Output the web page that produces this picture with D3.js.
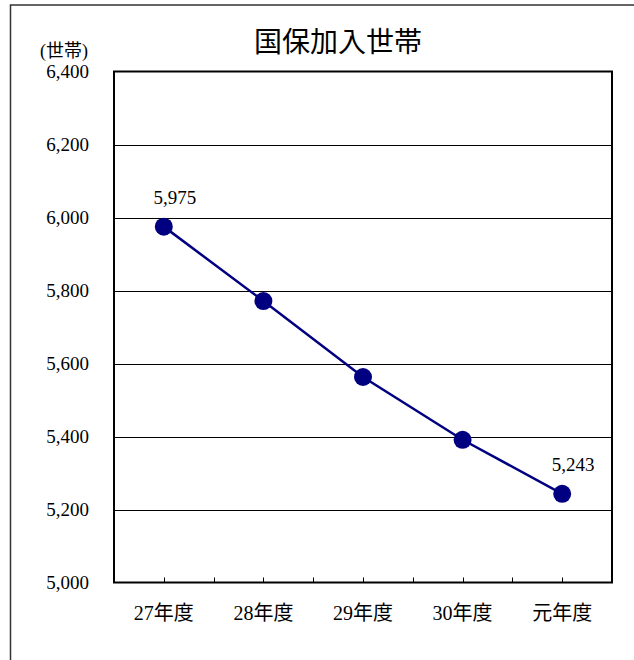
<!DOCTYPE html>
<html><head><meta charset="utf-8">
<script src="https://cdn.jsdelivr.net/npm/d3@7"></script>
<style>
html,body{margin:0;padding:0;background:#fff;}
svg{display:block;}
text{font-family:"Liberation Serif","DejaVu Serif","Noto Sans CJK JP",serif;fill:#000;}
</style></head>
<body>
<script>
const categories = ["27年度","28年度","29年度","30年度","元年度"];
const values = [5975, 5771, 5563, 5391, 5243];
const yTicks = [5000, 5200, 5400, 5600, 5800, 6000, 6200, 6400];
const labelled = [0, 4];
const title = "国保加入世帯";
const unitLabel = "(世帯)";

const W = 634, H = 660;
const L = 114, R = 612, T = 71.5, B = 582.5;

const svg = d3.select("body").append("svg").attr("width", W).attr("height", H);

// outer frame
svg.append("rect").attr("x", 10.5).attr("y", 5).attr("width", 640).attr("height", 700)
  .attr("fill", "none").attr("stroke", "#333").attr("stroke-width", 1.5);

const x = d3.scaleBand().domain(categories).range([L, R]).padding(0);
const y = d3.scaleLinear().domain([5000, 6400]).range([B, T]);

// gridlines
svg.append("g").selectAll("line").data(yTicks.slice(1, -1)).join("line")
  .attr("x1", L).attr("x2", R)
  .attr("y1", d => Math.round(y(d)) + 0.5).attr("y2", d => Math.round(y(d)) + 0.5)
  .attr("stroke", "#000").attr("stroke-width", 1);

// y tick labels
svg.append("g").selectAll("text").data(yTicks).join("text")
  .attr("x", 89).attr("y", d => y(d)).attr("dy", "0.36em")
  .attr("text-anchor", "end").attr("font-size", 19)
  .text(d => d3.format(",")(d));

svg.append("text").attr("x", 64).attr("y", 57).attr("text-anchor", "middle")
  .attr("font-size", 18).text(unitLabel);

// x ticks: centers and boundaries, pointing up
const tickXs = [];
categories.forEach((c, i) => {
  tickXs.push(x(c) + x.bandwidth() / 2);
  if (i > 0) tickXs.push(x(c));
});
svg.append("g").selectAll("line").data(tickXs).join("line")
  .attr("x1", d => Math.round(d) + 0.5).attr("x2", d => Math.round(d) + 0.5)
  .attr("y1", B).attr("y2", B - 5)
  .attr("stroke", "#000").attr("stroke-width", 1);

// x labels
svg.append("g").selectAll("text").data(categories).join("text")
  .attr("x", d => x(d) + x.bandwidth() / 2).attr("y", 620)
  .attr("text-anchor", "middle").attr("font-size", 20)
  .text(d => d);

// plot frame
svg.append("rect").attr("x", L).attr("y", T).attr("width", R - L).attr("height", B - T)
  .attr("fill", "none").attr("stroke", "#000").attr("stroke-width", 2);

// line
const cx = (d, i) => x(categories[i]) + x.bandwidth() / 2;
const line = d3.line().x((d, i) => cx(d, i)).y(d => y(d));
svg.append("path").datum(values).attr("d", line)
  .attr("fill", "none").attr("stroke", "#000080").attr("stroke-width", 2.5);

svg.append("g").selectAll("circle").data(values).join("circle")
  .attr("cx", (d, i) => cx(d, i)).attr("cy", d => y(d)).attr("r", 9)
  .attr("fill", "#000080");

// data labels
svg.append("g").selectAll("text").data(labelled).join("text")
  .attr("x", i => cx(values[i], i) + 11).attr("y", i => y(values[i]) - 23)
  .attr("text-anchor", "middle").attr("font-size", 19)
  .text(i => d3.format(",")(values[i]));

// title
svg.append("text").attr("x", 338).attr("y", 52).attr("text-anchor", "middle")
  .attr("font-size", 28).text(title);
</script>
</body></html>
